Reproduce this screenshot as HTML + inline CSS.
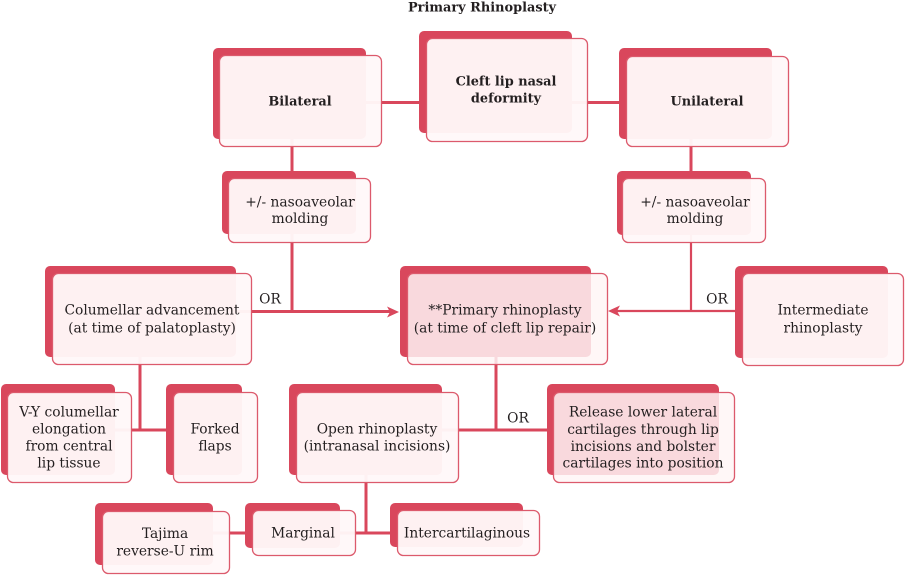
<!DOCTYPE html>
<html><head><meta charset="utf-8"><style>
html,body{margin:0;padding:0;background:#fff;}
svg{display:block;}
text{font-family:"DejaVu Serif","Liberation Serif",serif;fill:#231f20;}
.r{font-size:13.8px;}
.b{font-size:12.9px;font-weight:bold;}
.bk{fill:#d9475c;}
.fr{fill:rgba(255,248,249,0.96);stroke:#dc5a6c;stroke-width:1.3;}
.hl{fill:rgba(255,245,246,0.84);stroke:#dc5a6c;stroke-width:1.3;}
.ln{stroke:#d9475c;stroke-width:3;fill:none;}
.ln2{stroke:#d9475c;stroke-width:2.2;fill:none;}
</style></head><body>
<svg width="905" height="576" viewBox="0 0 905 576" xmlns="http://www.w3.org/2000/svg">
<!-- back rects -->
<rect class="bk" x="213" y="48" width="153" height="91" rx="5"/>
<rect class="bk" x="419" y="31" width="153" height="102" rx="5"/>
<rect class="bk" x="619" y="48" width="153" height="91" rx="5"/>
<rect class="bk" x="222" y="171" width="134" height="63" rx="5"/>
<rect class="bk" x="617" y="171" width="134" height="64" rx="5"/>
<rect class="bk" x="45" y="266" width="191" height="91" rx="5"/>
<rect class="bk" x="400" y="266" width="191" height="91" rx="5"/>
<rect class="bk" x="735" y="266" width="153" height="92" rx="5"/>
<rect class="bk" x="1" y="384" width="114" height="91" rx="5"/>
<rect class="bk" x="166" y="384" width="76" height="91" rx="5"/>
<rect class="bk" x="289" y="384" width="153" height="91" rx="5"/>
<rect class="bk" x="547" y="384" width="172" height="91" rx="5"/>
<rect class="bk" x="95" y="503" width="118" height="62" rx="5"/>
<rect class="bk" x="245" y="503" width="95" height="45" rx="5"/>
<rect class="bk" x="390" y="503" width="133" height="44" rx="5"/>

<!-- connectors -->
<line class="ln" x1="366" y1="102.5" x2="419" y2="102.5"/>
<line class="ln" x1="572" y1="102.5" x2="619" y2="102.5"/>
<line class="ln" x1="292" y1="139" x2="292" y2="171"/>
<line class="ln" x1="691" y1="139" x2="691" y2="171"/>
<line class="ln" x1="292" y1="234" x2="292" y2="312"/>
<line class="ln2" x1="691" y1="235" x2="691" y2="311"/>
<line class="ln" x1="236" y1="311.5" x2="390" y2="311.5"/>
<polygon fill="#d9475c" points="399,312 387,306.5 390,312 387,317.5"/>
<line class="ln2" x1="735" y1="311" x2="616" y2="311"/>
<polygon fill="#d9475c" points="608,311 620,305.5 617,311 620,316.5"/>
<line class="ln" x1="496" y1="357" x2="496" y2="430"/>
<line class="ln" x1="442" y1="430" x2="547" y2="430"/>
<line class="ln" x1="140" y1="357" x2="140" y2="430"/>
<line class="ln" x1="115" y1="430" x2="166" y2="430"/>
<line class="ln" x1="366" y1="475" x2="366" y2="533"/>
<line class="ln" x1="340" y1="533" x2="390" y2="533"/>
<line class="ln" x1="213" y1="533" x2="245" y2="533"/>

<!-- front rects -->
<rect class="fr" x="219.5" y="55.5" width="162" height="91" rx="6"/>
<rect class="fr" x="426.5" y="38.5" width="161" height="103" rx="6"/>
<rect class="fr" x="626.5" y="56.5" width="162" height="90" rx="6"/>
<rect class="fr" x="228.5" y="178.5" width="142" height="64" rx="6"/>
<rect class="fr" x="622.5" y="178.5" width="143" height="64" rx="6"/>
<rect class="fr" x="52.5" y="273.5" width="199" height="91" rx="6"/>
<rect class="hl" x="407.5" y="273.5" width="200" height="91" rx="6"/>
<rect class="fr" x="742.5" y="273.5" width="161" height="92" rx="6"/>
<rect class="fr" x="7.5" y="392.5" width="124" height="90" rx="6"/>
<rect class="fr" x="173.5" y="392.5" width="84" height="90" rx="6"/>
<rect class="fr" x="296.5" y="392.5" width="162" height="90" rx="6"/>
<rect class="hl" x="553.5" y="392.5" width="181" height="90" rx="6"/>
<rect class="fr" x="102.5" y="511.5" width="127" height="62" rx="6"/>
<rect class="fr" x="252.5" y="510.5" width="103" height="45" rx="6"/>
<rect class="fr" x="397.5" y="510.5" width="142" height="45" rx="6"/>

<!-- text -->
<text class="b" x="482" y="11.5" text-anchor="middle" font-size="13.2">Primary Rhinoplasty</text>
<text class="b" x="300" y="105.5" text-anchor="middle">Bilateral</text>
<text class="b" x="506" y="85.5" text-anchor="middle">Cleft lip nasal</text>
<text class="b" x="506" y="102.5" text-anchor="middle">deformity</text>
<text class="b" x="707" y="105.5" text-anchor="middle">Unilateral</text>

<text class="r" x="300" y="206.5" text-anchor="middle">+/- nasoaveolar</text>
<text class="r" x="300" y="223" text-anchor="middle">molding</text>
<text class="r" x="695" y="206.5" text-anchor="middle">+/- nasoaveolar</text>
<text class="r" x="695" y="223" text-anchor="middle">molding</text>

<text class="r" x="152" y="314.5" text-anchor="middle">Columellar advancement</text>
<text class="r" x="152" y="332.5" text-anchor="middle">(at time of palatoplasty)</text>
<text class="r" x="505" y="314.5" text-anchor="middle">**Primary rhinoplasty</text>
<text class="r" x="505" y="332.5" text-anchor="middle">(at time of cleft lip repair)</text>
<text class="r" x="823" y="314.5" text-anchor="middle">Intermediate</text>
<text class="r" x="823" y="332.5" text-anchor="middle">rhinoplasty</text>

<text class="r" x="270" y="303.5" text-anchor="middle">OR</text>
<text class="r" x="717" y="303.5" text-anchor="middle">OR</text>
<text class="r" x="518" y="422.5" text-anchor="middle">OR</text>

<text class="r" x="69" y="416.5" text-anchor="middle">V-Y columellar</text>
<text class="r" x="69" y="433.5" text-anchor="middle">elongation</text>
<text class="r" x="69" y="450.5" text-anchor="middle">from central</text>
<text class="r" x="69" y="467.5" text-anchor="middle">lip tissue</text>

<text class="r" x="215" y="433.5" text-anchor="middle">Forked</text>
<text class="r" x="215" y="450.5" text-anchor="middle">flaps</text>

<text class="r" x="377" y="433.5" text-anchor="middle">Open rhinoplasty</text>
<text class="r" x="377" y="450.5" text-anchor="middle">(intranasal incisions)</text>

<text class="r" x="643" y="416.5" text-anchor="middle">Release lower lateral</text>
<text class="r" x="643" y="434" text-anchor="middle">cartilages through lip</text>
<text class="r" x="643" y="451" text-anchor="middle">incisions and bolster</text>
<text class="r" x="643" y="467.5" text-anchor="middle">cartilages into position</text>

<text class="r" x="165" y="538" text-anchor="middle">Tajima</text>
<text class="r" x="165" y="555.5" text-anchor="middle">reverse-U rim</text>
<text class="r" x="303" y="537.5" text-anchor="middle">Marginal</text>
<text class="r" x="467" y="537.5" text-anchor="middle">Intercartilaginous</text>
</svg>
</body></html>
